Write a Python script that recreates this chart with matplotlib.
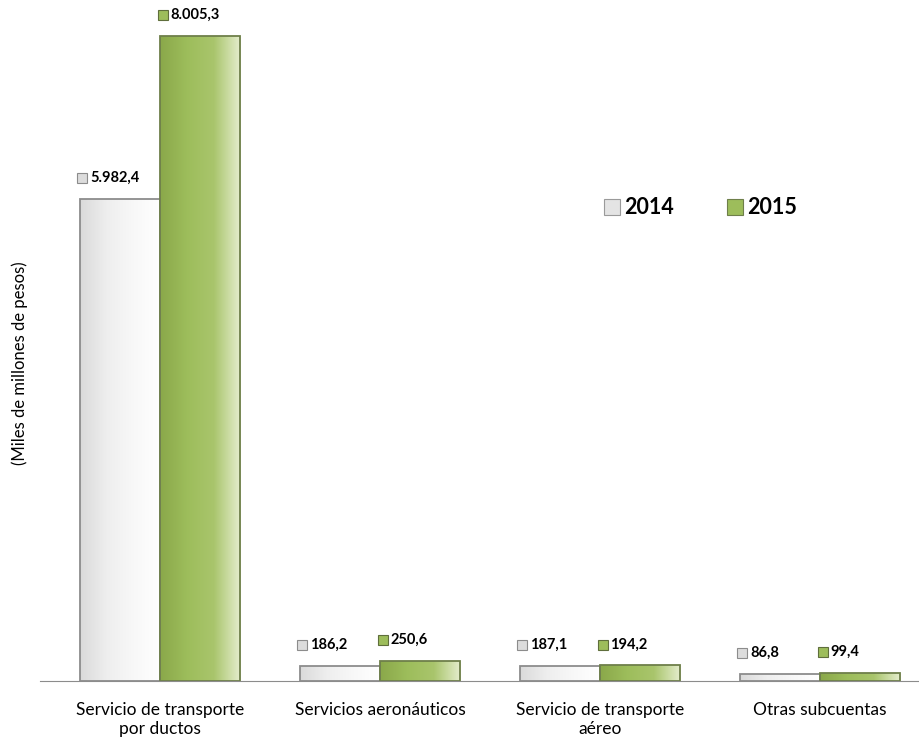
import matplotlib.pyplot as plt
import matplotlib.transforms as mtransforms
import numpy as np
from matplotlib.colors import LinearSegmentedColormap

# data
categorias = ["Servicio de transporte\npor ductos", "Servicios aeronáuticos",
              "Servicio de transporte\naéreo", "Otras subcuentas"]
valores_2014 = [5982.4, 186.2, 187.1, 86.8]
valores_2015 = [8005.3, 250.6, 194.2, 99.4]
etiquetas_2014 = ["5.982,4", "186,2", "187,1", "86,8"]
etiquetas_2015 = ["8.005,3", "250,6", "194,2", "99,4"]
anios = ["2014", "2015"]

plt.rcParams['font.family'] = ['Lato', 'DejaVu Sans']

gris = LinearSegmentedColormap.from_list("gris", ["#dadada", "#eeeeee", "#f8f8f8", "#ffffff"])
verde = LinearSegmentedColormap.from_list("verde", ["#8aa84a", "#9dbd5b", "#a9c56c", "#e6eecf"])

fig = plt.figure(figsize=(9.19, 7.46), dpi=100)
ax = fig.add_axes([0.0435, 0.087, 0.9565, 0.913])

x = np.arange(len(categorias))
w = 0.365
grad = np.linspace(0, 1, 256).reshape(1, -1)


def barras_degradado(pos, vals, cmap, borde):
    barras = ax.bar(pos, vals, w, color="none", edgecolor=borde, linewidth=1.3, zorder=3)
    for b in barras:
        x0, y0 = b.get_x(), b.get_y()
        im = ax.imshow(grad, cmap=cmap, aspect="auto", zorder=2,
                       extent=[x0, x0 + b.get_width(), y0, y0 + b.get_height()])
        im.set_clip_path(b)
    return barras


b14 = barras_degradado(x - w / 2, valores_2014, gris, "#8c8c8c")
b15 = barras_degradado(x + w / 2, valores_2015, verde, "#6e7f4a")

# etiquetas de valor con cuadrito
desp = mtransforms.ScaledTranslation(0, 15 / 72, fig.dpi_scale_trans)
for pos, vals, labs, col, ec in [(x - w / 2, valores_2014, etiquetas_2014, "#dcdcdc", "#8c8c8c"),
                                 (x + w / 2, valores_2015, etiquetas_2015, "#9dbd5b", "#5f6e3c")]:
    for xi, v, t in zip(pos, vals, labs):
        ax.plot([xi - 0.17], [v], marker="s", ms=7, mfc=col, mec=ec, mew=0.8,
                transform=ax.transData + desp, clip_on=False, zorder=4)
        ax.annotate(t, (xi - 0.135, v), xytext=(0, 15), textcoords="offset points",
                    ha="left", va="center", fontsize=10.5, fontweight="bold", zorder=4)

# leyenda manual
for xl, t, col, ec in [(0.651, anios[0], "#e4e4e4", "#9a9a9a"), (0.791, anios[1], "#9dbd5b", "#6e7f4a")]:
    ax.plot([xl], [0.696], marker="s", ms=11, mfc=col, mec=ec, mew=0.8,
            transform=ax.transAxes, clip_on=False)
    ax.text(xl + 0.014, 0.696, t, transform=ax.transAxes, fontsize=15.5,
            fontweight="bold", va="center", ha="left")

ax.set_xlim(-0.545, 3.45)
ax.set_ylim(0, 8450)
ax.set_xticks(x)
ax.set_xticklabels(categorias, fontsize=12.5)
ax.tick_params(axis="x", length=0, pad=15)
ax.set_yticks([])
for s in ["top", "right", "left"]:
    ax.spines[s].set_visible(False)
ax.spines["bottom"].set_color("#8c8c8c")
ax.spines["bottom"].set_zorder(5)

fig.text(0.022, 0.513, "(Miles de millones de pesos)", rotation=90, fontsize=12,
         ha="center", va="center")

fig.savefig("out.png", dpi=100)
